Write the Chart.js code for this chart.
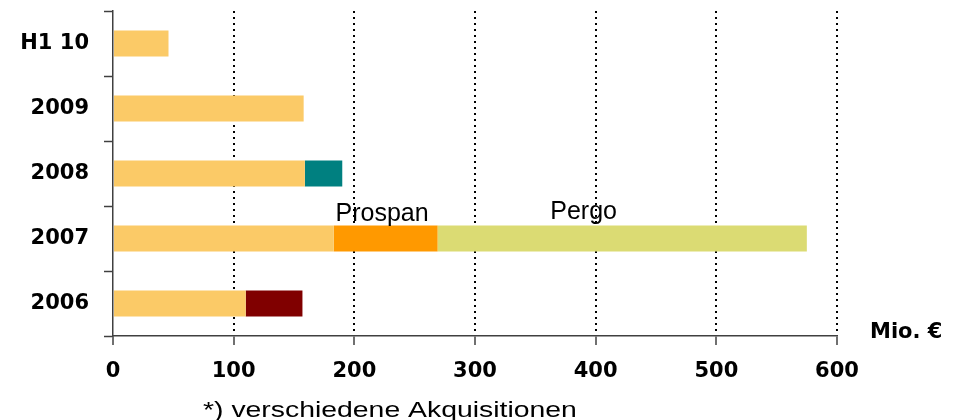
<!DOCTYPE html>
<html>
<head>
<meta charset="utf-8">
<style>
  html, body { margin: 0; padding: 0; background: #ffffff; }
  #wrap { width: 953px; height: 420px; position: relative; }
</style>
<script src="https://cdn.jsdelivr.net/npm/chart.js@4/dist/chart.umd.min.js"></script>
</head>
<body>
<div id="wrap"><canvas id="c" width="953" height="420"></canvas></div>
<script>
// ---- data ----
const categories = ['H1 10', '2009', '2008', '2007', '2006'];
const baseValues = [46, 158, 159, 183, 110];
const acq2006Values = [null, null, null, null, 47];
const prospanValues = [null, null, null, 86, null];
const pergoValues = [null, null, null, 306, null];
const acq2008Values = [null, null, 31, null, null];
const xTicks = [0, 100, 200, 300, 400, 500, 600];
const annotationTexts = ['Prospan', 'Pergo'];
const annotationValues = [223, 390];
const unitLabel = 'Mio. €';
const footnote = '*) verschiedene Akquisitionen';

const AXIS = '#404040';

const textPlugin = {
  id: 'texts',
  afterDraw(chart) {
    const ctx = chart.ctx;
    const xs = chart.scales.x;
    ctx.save();
    ctx.fillStyle = '#000';
    // annotations above the 2007 bar
    const bar = chart.getDatasetMeta(2).data[3];
    const top = bar.y - bar.height / 2;
    ctx.font = '25px "Liberation Sans"';
    ctx.textAlign = 'center';
    ctx.textBaseline = 'alphabetic';
    ctx.fillText(annotationTexts[0], xs.getPixelForValue(annotationValues[0]), top - 5);
    ctx.fillText(annotationTexts[1], xs.getPixelForValue(annotationValues[1]), top - 7);
    // unit label
    ctx.font = 'bold 21px "DejaVu Sans"';
    ctx.textAlign = 'left';
    ctx.fillText(unitLabel, chart.chartArea.right + 33, chart.chartArea.bottom + 2);
    // footnote
    ctx.font = '21.5px "Liberation Sans"';
    ctx.translate(203, 417);
    ctx.scale(1.32, 1);
    ctx.fillText(footnote, 0, 0);
    ctx.restore();
  }
};

new Chart(document.getElementById('c'), {
  type: 'bar',
  data: {
    labels: categories,
    datasets: [
      { label: 'Basis', data: baseValues, backgroundColor: '#FBCA67' },
      { label: '2006*', data: acq2006Values, backgroundColor: '#800000' },
      { label: 'Prospan', data: prospanValues, backgroundColor: '#FF9900' },
      { label: 'Pergo', data: pergoValues, backgroundColor: '#DBDB73' },
      { label: '2008*', data: acq2008Values, backgroundColor: '#008080' }
    ]
  },
  options: {
    indexAxis: 'y',
    responsive: false,
    animation: false,
    events: [],
    layout: { padding: { left: 0, right: 116, top: 11, bottom: 0 } },
    datasets: { bar: { barPercentage: 0.4, categoryPercentage: 1.0, borderWidth: 0 } },
    plugins: { legend: { display: false }, tooltip: { enabled: false } },
    scales: {
      x: {
        stacked: true,
        min: 0, max: 600,
        afterBuildTicks(scale) { scale.ticks = xTicks.map(v => ({ value: v })); },
        afterFit(scale) {
          scale.height = 84;
          scale.paddingLeft = 0; scale.paddingRight = 0;
          scale.paddingTop = 0; scale.paddingBottom = 0;
        },
        border: { display: true, color: AXIS, width: 1.5, dash: [2, 4] },
        grid: {
          drawOnChartArea: true,
          drawTicks: true,
          tickLength: 9,
          color: (c) => (c.tick && c.tick.value === 0) ? 'rgba(0,0,0,0)' : '#000000',
          lineWidth: 2,
          tickColor: AXIS,
          tickWidth: 1.5,
          tickBorderDash: []
        },
        ticks: {
          color: '#000',
          font: { family: 'DejaVu Sans', weight: 'bold', size: 21 },
          padding: 14,
          maxRotation: 0,
          autoSkip: false
        }
      },
      y: {
        stacked: true,
        afterFit(scale) {
          scale.width = 113;
          scale.paddingLeft = 0; scale.paddingRight = 0;
          scale.paddingTop = 0; scale.paddingBottom = 0;
        },
        border: { display: true, color: AXIS, width: 1.5 },
        grid: {
          offset: true,
          drawOnChartArea: false,
          drawTicks: true,
          tickLength: 9,
          color: AXIS,
          tickColor: AXIS,
          tickWidth: 1.5
        },
        ticks: {
          color: '#000',
          font: { family: 'DejaVu Sans', weight: 'bold', size: 21 },
          padding: 15
        }
      }
    }
  },
  plugins: [textPlugin]
});
</script>
</body>
</html>
